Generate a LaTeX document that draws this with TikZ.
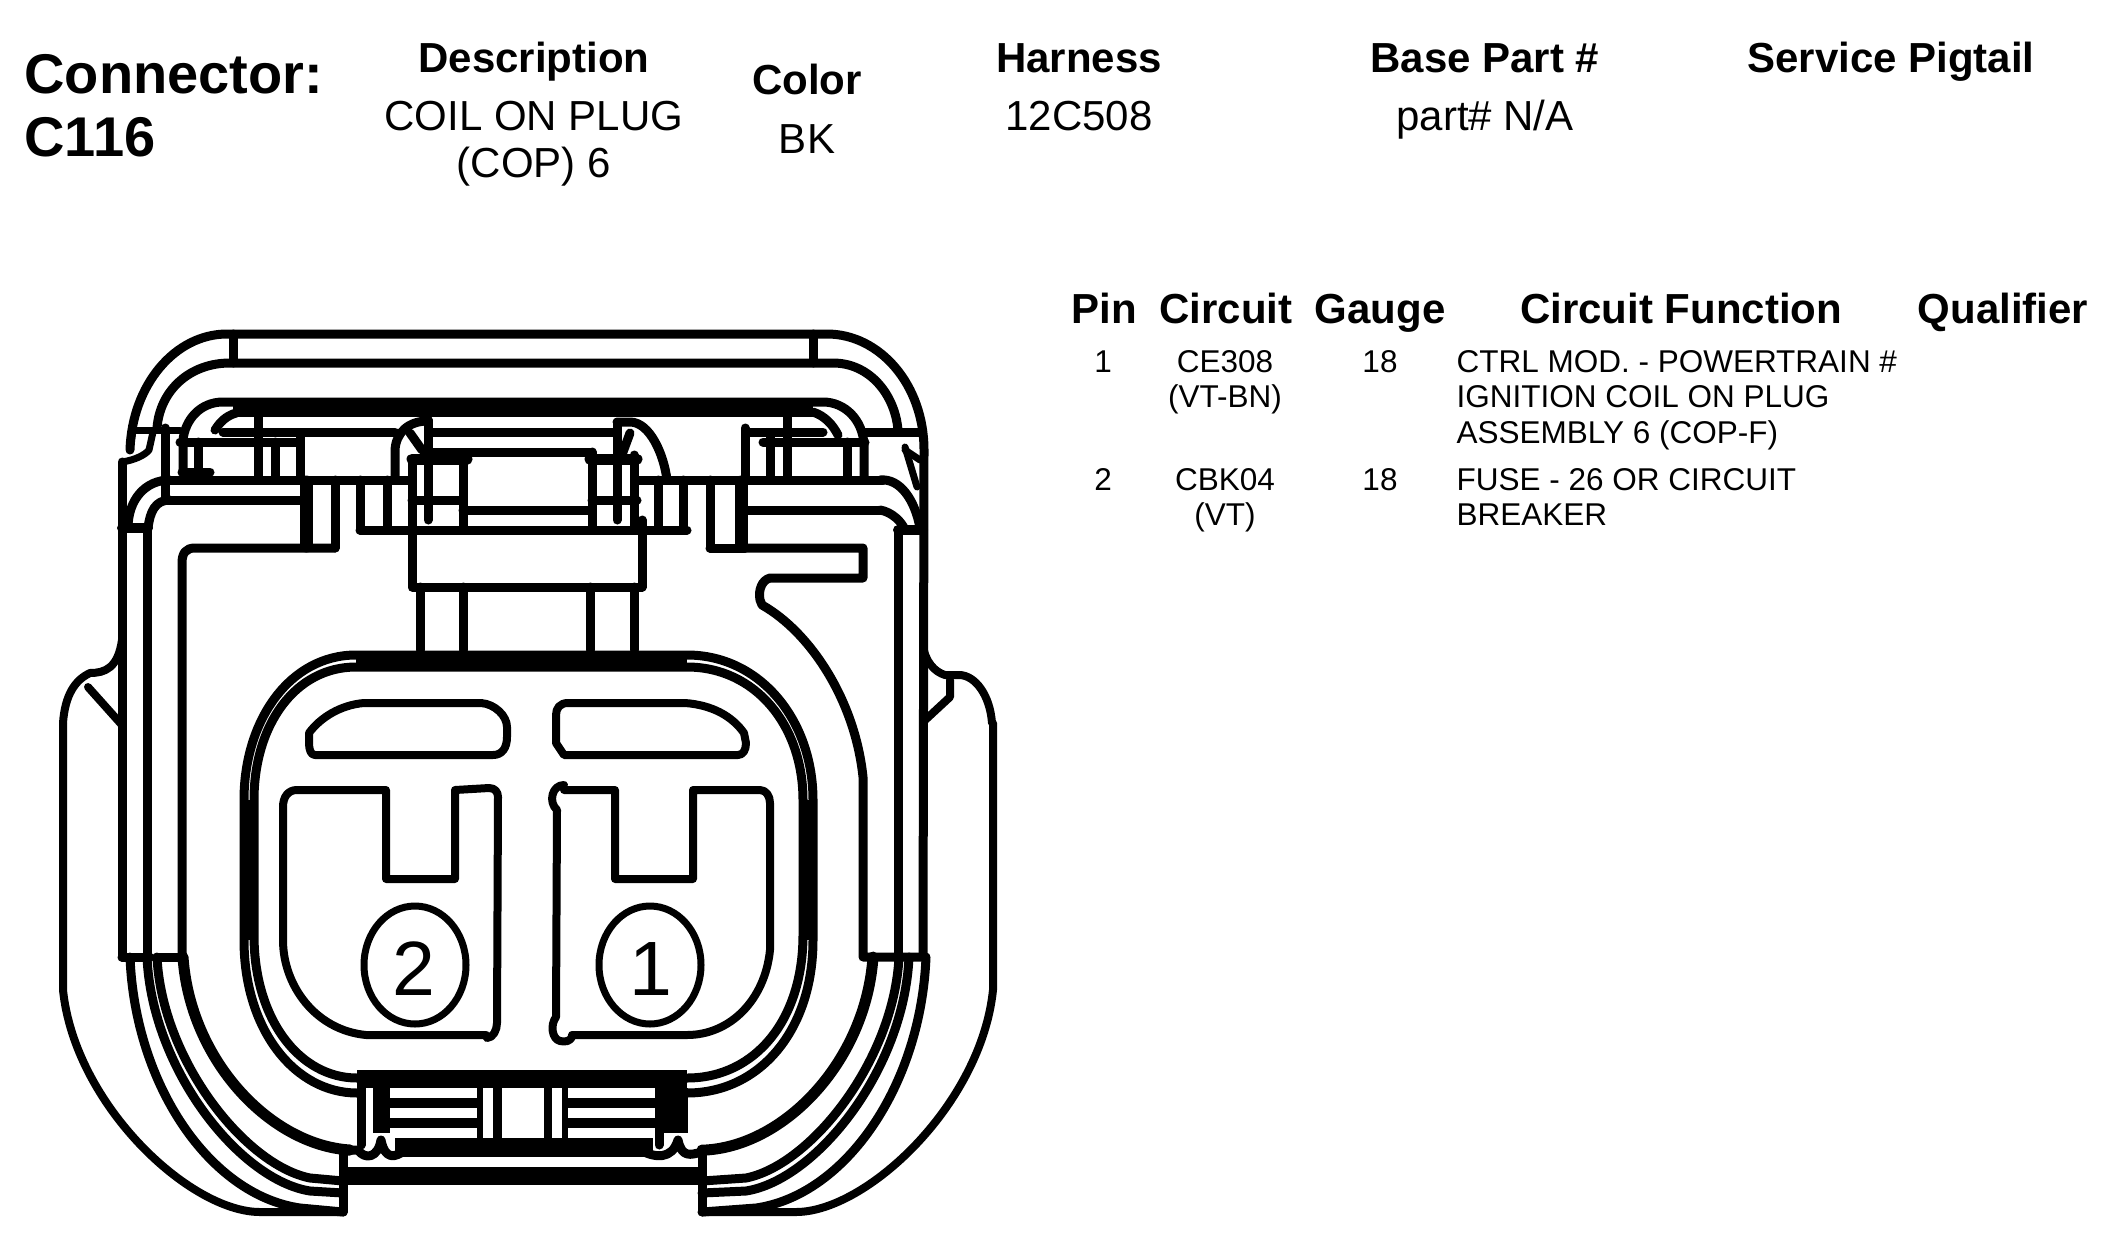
\documentclass[tikz,border=0pt]{standalone}
\usepackage{fontspec}
\setmainfont{Liberation Sans}
\newcommand{\botcurves}[1]{%
  \draw[ln,line width=8pt] (63,723) -- (63,990) .. controls (75,1105) and (190,1212) .. (260,1212) -- (#1,1212);
  \draw[ln] (130,957) .. controls (135,1085) and (210,1195) .. (300,1208) -- (#1,1212);
  \draw[ln] (147,957) .. controls (152,1070) and (240,1180) .. (310,1191) -- (#1,1193);
  \draw[ln] (157,957) .. controls (162,1060) and (245,1165) .. (310,1178) -- (#1,1181);
  \draw[ln,line width=11pt] (183,957) .. controls (190,1060) and (270,1145) .. (350,1150) -- (#1,1150);
}
\tikzset{
  ln/.style={draw=black,line width=9pt,line join=round,line cap=round},
  thinln/.style={ln,line width=7pt},
  pinln/.style={ln,line width=8pt},
  head/.style={anchor=base,font=\fontsize{42}{42}\selectfont\bfseries},
  val/.style={anchor=base,font=\fontsize{42}{42}\selectfont},
  cell/.style={anchor=base,font=\fontsize{31.5}{31.5}\selectfont},
  fn/.style={anchor=base west,font=\fontsize{31.5}{31.5}\selectfont},
  title/.style={anchor=base west,font=\fontsize{56}{56}\selectfont\bfseries},
  pinnum/.style={anchor=base,font=\fontsize{77}{77}\selectfont},
}
\begin{document}
\begin{tikzpicture}[x=1pt,y=-1pt]
\useasboundingbox (0,0) rectangle (2120,1256);
\fill[white] (0,0) rectangle (2120,1256);

% ---------- header texts
\node[title] (tconn) at (21,93) {Connector:};
\node[title] (tc116) at (21,156) {C116};
\node[head] (hdesc) at (534,72) {Description};
\node[val] (vdesc1) at (534,130) {COIL ON PLUG};
\node[val] (vdesc2) at (534,177) {(COP) 6};
\node[head] (hcol) at (807,94) {Color};
\node[val] (vcol) at (807,153) {BK};
\node[head] (hhar) at (1079,72) {Harness};
\node[val] (vhar) at (1079,130) {12C508};
\node[head] (hbase) at (1485,72) {Base Part \#};
\node[val] (vbase) at (1485,130) {part\# N/A};
\node[head] (hserv) at (1891,72) {Service Pigtail};

% ---------- table
\node[head] (hpin) at (1104,323) {Pin};
\node[head] (hcir) at (1226,323) {Circuit};
\node[head] (hgau) at (1380,323) {Gauge};
\node[head] (hfun) at (1681,323) {Circuit Function};
\node[head] (hqua) at (2003,323) {Qualifier};
\node[cell] (p1) at (1103,372) {1};
\node[cell] (c1a) at (1225,372) {CE308};
\node[cell] (c1b) at (1225,407) {(VT-BN)};
\node[cell] (g1) at (1380,372) {18};
\node[fn] (f1a) at (1453,372) {CTRL MOD. - POWERTRAIN \#};
\node[fn] (f1b) at (1453,407) {IGNITION COIL ON PLUG};
\node[fn] (f1c) at (1453,443) {ASSEMBLY 6 (COP-F)};
\node[cell] (p2) at (1103,490) {2};
\node[cell] (c2a) at (1225,490) {CBK04};
\node[cell] (c2b) at (1225,525) {(VT)};
\node[cell] (g2) at (1380,490) {18};
\node[fn] (f2a) at (1453,490) {FUSE - 26 OR CIRCUIT};
\node[fn] (f2b) at (1453,525) {BREAKER};

% ---------- housing top
\draw[ln] (130,450) .. controls (132,385) and (175,334) .. (227,334) -- (827,334) .. controls (880,334) and (924,385) .. (924,450) -- (923,957);
\draw[ln] (157,428) .. controls (160,390) and (190,363) .. (230,363) -- (833,363) .. controls (870,363) and (895,395) .. (898,430);
\draw[ln] (233,334) -- (233,363);
\draw[ln] (813,334) -- (813,363);
\draw[ln] (183,472) -- (183,440) .. controls (185,420) and (200,402) .. (223,402) -- (823,402) .. controls (845,402) and (863,420) .. (864,445) -- (864,480);
\fill[black] (233,398) rectangle (813,417);
\draw[ln] (215,430) .. controls (220,422) and (226,416) .. (236,413);
\draw[ln] (813,412) .. controls (825,416) and (833,425) .. (838,435);
% horizontals
\draw[thinln] (133,430) -- (180,430);
\draw[ln] (223,432) -- (395,432);
\draw[ln] (433,432) -- (613,432);
\draw[ln] (747,432) -- (823,432);
\draw[ln] (863,432) -- (920,432);
\draw[ln] (180,442) -- (297,442);
\draw[ln] (763,442) -- (865,442);
\draw[ln] (165,480) -- (410,480);
\draw[ln] (637,480) -- (883,480);
\draw[ln] (182,472) -- (210,472);
\draw[ln] (167,500) -- (300,500);
\draw[ln] (747,510) -- (880,510);
\draw[ln] (433,452) -- (590,452);
\draw[ln,line width=11pt] (412,459) -- (467,459);
\draw[ln,line width=11pt] (590,459) -- (637,459);
\draw[ln] (412,500) -- (463,500);
\draw[ln] (592,500) -- (637,500);
\draw[ln] (463,510) -- (590,510);
\draw[ln] (360,530) -- (687,530);
% left verticals top
\draw[ln] (165,428) -- (165,500);
\draw[ln] (198,442) -- (198,480);
\draw[ln] (258,413) -- (258,480);
\draw[ln] (275,442) -- (275,480);
\draw[ln] (300,437) -- (300,480);
\draw[ln,line width=13pt] (306,482) -- (306,546);
\draw[ln] (335,480) -- (335,548);
\draw[ln] (360,480) -- (360,530);
\draw[ln] (387,480) -- (387,530);
% centre latch
\draw[ln] (412,459) -- (412,587) -- (642,587) -- (642,520);
\draw[ln] (634,455) -- (634,530);
\draw[ln] (428,420) -- (428,520);
\draw[ln] (463,458) -- (463,530);
\draw[ln] (592,452) -- (592,530);
\draw[ln] (617,423) -- (617,520);
\draw[ln] (395,480) -- (395,450) .. controls (396,433) and (408,421) .. (428,421);
\draw[ln] (410,433) -- (422,450);
\draw[ln] (667,480) .. controls (664,455) and (650,422) .. (630,422) -- (617,422);
\draw[ln] (630,433) -- (623,452);
% right verticals top
\draw[ln] (658,480) -- (658,530);
\draw[ln] (683,480) -- (683,530);
\draw[ln] (710,480) -- (710,548);
\draw[ln,line width=13pt] (741,482) -- (741,546);
\draw[ln] (745,428) -- (745,480);
\draw[ln] (770,437) -- (770,480);
\draw[ln] (787,413) -- (787,480);
\draw[ln] (847,442) -- (847,480);
% stems
\draw[ln] (420,587) -- (420,650);
\draw[ln] (463,587) -- (463,650);
\draw[ln] (590,587) -- (590,650);
\draw[ln] (634,587) -- (634,650);
% left side
\draw[ln] (182,957) -- (182,563) .. controls (182,553) and (186,548) .. (195,548) -- (335,548);
\draw[ln] (147,528) -- (147,957);
\draw[ln] (122,462) -- (122,957);
\draw[ln] (122,957) -- (150,957);
\draw[ln] (157,957) -- (182,957);
\draw[ln,line width=10pt] (122,528) -- (148,528);
\draw[ln] (128,528) .. controls (128,500) and (145,480) .. (170,480);
\draw[ln] (148,528) .. controls (150,512) and (155,500) .. (170,500);
\draw[thinln] (122,462) .. controls (135,460) and (145,455) .. (149,450) -- (153,432);
\draw[thinln] (133,430) -- (130,450);
% right side
\draw[ln] (745,548) -- (863,548) -- (863,578) -- (770,578) .. controls (762,580) and (758,590) .. (760,600) -- (762,605) .. controls (810,632) and (855,700) .. (863,777) -- (863,957) -- (923,957);
\draw[ln] (710,548) -- (745,548);
\draw[ln] (898,530) -- (898,957);
\draw[ln,line width=10pt] (898,530) -- (923,530);
\draw[ln] (880,480) .. controls (900,478) and (915,500) .. (920,528);
\draw[ln] (880,510) .. controls (892,512) and (902,522) .. (905,530);
\draw[thinln] (905,447) -- (917,487);
\draw[thinln] (905,450) -- (920,460);
% flanks
\draw[pinln] (63,723) .. controls (65,695) and (75,680) .. (90,673) .. controls (105,673) and (118,668) .. (122,640);
\draw[pinln] (88,687) -- (122,725);
\draw[pinln] (992,723) .. controls (990,695) and (975,675) .. (959,675) -- (945,675) .. controls (935,672) and (925,662) .. (923,645);
\draw[pinln] (923,722) -- (950,697) -- (950,680);
% bottom curves, left and mirrored right
\botcurves{343}
\begin{scope}[shift={(1056,0)},xscale=-1]
\botcurves{354}
\end{scope}

% ---------- inner shell
\draw[ln] (357,1093) .. controls (295,1093) and (244,1030) .. (244,940) -- (244,800) .. controls (244,720) and (290,655) .. (356,655) -- (687,655) .. controls (760,655) and (813,720) .. (813,800) -- (813,940) .. controls (813,1030) and (760,1093) .. (687,1093);
\draw[ln] (357,1078) .. controls (300,1078) and (254,1020) .. (254,935) -- (254,800) .. controls (254,725) and (295,667) .. (356,667) -- (687,667) .. controls (755,667) and (803,725) .. (803,800) -- (803,935) .. controls (803,1020) and (755,1078) .. (687,1078);
\fill[black] (240,800) rectangle (258,940);
\fill[black] (799,800) rectangle (817,940);
\fill[black] (356,651) rectangle (687,671);
\fill[black] (357,1070) rectangle (687,1088);

% ---------- upper pills
\draw[pinln] (315,755) -- (493,755) .. controls (502,755) and (507,748) .. (507,737) -- (507,727) .. controls (507,716) and (495,704) .. (481,703) -- (364,703) .. controls (340,705) and (320,718) .. (309,733) -- (309,743) .. controls (309,750) and (311,755) .. (315,755) -- cycle;
\draw[pinln] (564,755) -- (738,755) .. controls (743,755) and (746,750) .. (746,743) -- (744,733) .. controls (732,716) and (712,705) .. (685,703) -- (568,703) .. controls (560,703) and (556,708) .. (556,715) -- (556,743) -- cycle;

% ---------- contacts
\draw[pinln] (283,807) .. controls (283,797) and (288,790) .. (297,790) -- (386,790) -- (386,879) -- (455,879) -- (455,790) -- (489,788) .. controls (495,788) and (498,792) .. (498,797) -- (497,1023) .. controls (497,1030) and (493,1038) .. (487,1038) -- (486,1035) -- (366,1035) .. controls (315,1030) and (283,985) .. (283,940) -- cycle;
\draw[pinln] (564,787) -- (564,790) -- (615,790) -- (615,879) -- (693,879) -- (693,790) -- (760,790) .. controls (766,790) and (770,796) .. (770,803) -- (770,950) .. controls (765,1000) and (730,1035) .. (687,1035) -- (572,1035) .. controls (572,1042) and (564,1042) .. (560,1041) .. controls (552,1039) and (550,1025) .. (556,1017) -- (557,810) .. controls (548,802) and (552,785) .. (564,785);
\draw[line width=7pt] (415,965) ellipse [x radius=51,y radius=59];
\draw[line width=7pt] (650,965) ellipse [x radius=51,y radius=59];
\node[pinnum] (n2) at (414,995) {2};
\node[pinnum] (n1) at (651,995) {1};

% ---------- lower latch
\draw[ln] (361,1088) -- (361,1145);
\fill[black] (373,1088) rectangle (390,1133);
\draw[ln] (659,1088) -- (659,1145);
\fill[black] (663,1088) rectangle (688,1133);
\fill[black] (390,1098) rectangle (477,1108);
\fill[black] (390,1118) rectangle (477,1128);
\fill[black] (568,1098) rectangle (655,1108);
\fill[black] (568,1118) rectangle (655,1128);
\fill[black] (477,1088) rectangle (483,1138);
\fill[black] (493,1088) rectangle (502,1138);
\fill[black] (544,1088) rectangle (552,1138);
\fill[black] (562,1088) rectangle (568,1138);
\fill[black] (395,1138) rectangle (653,1157);
\fill[black] (345,1167) rectangle (702,1185);
\draw[ln] (350,1150) -- (358,1150) .. controls (365,1160) and (378,1158) .. (381,1140) .. controls (385,1160) and (395,1158) .. (405,1150);
\draw[ln] (640,1150) .. controls (655,1158) and (672,1160) .. (678,1140) .. controls (682,1158) and (690,1155) .. (702,1152);
\draw[ln] (343,1152) -- (343,1212);
\draw[ln] (702,1152) -- (702,1212);
\end{tikzpicture}
\end{document}
